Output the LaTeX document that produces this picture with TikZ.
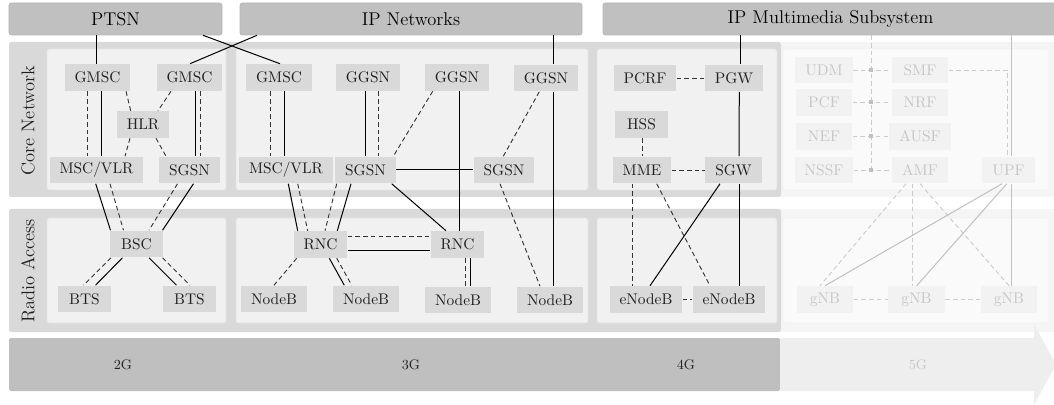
\documentclass[tikz,border=0pt]{standalone}
\usetikzlibrary{calc}
\definecolor{topc}{HTML}{C0C0C0}
\definecolor{topd}{HTML}{B6B6B6}
\definecolor{band}{HTML}{D9D9D9}
\definecolor{innerc}{HTML}{F1F1F1}
\definecolor{innerd}{HTML}{E3E3E3}
\definecolor{nodec}{HTML}{D9D9D9}
\definecolor{arr}{HTML}{BFBFBF}
\definecolor{fband}{HTML}{F5F5F5}
\definecolor{finner}{HTML}{FAFAFA}
\definecolor{finnerd}{HTML}{F2F2F2}
\definecolor{fnode}{HTML}{F2F2F2}
\definecolor{ftext}{HTML}{C6C6C6}
\definecolor{fline}{HTML}{C0C0C0}
\definecolor{fdash}{HTML}{CBCBCB}
\definecolor{farr}{HTML}{EEEEEE}
\begin{document}
\begin{tikzpicture}[x=0.65pt,y=-0.65pt,
  box/.style={fill=nodec, text=black!88, minimum width=34pt, minimum height=17.5pt, inner xsep=6.5pt, inner ysep=0pt, font=\normalsize},
  fbox/.style={box, fill=fnode, text=ftext, minimum width=37pt},
  topbox/.style={fill=topc, draw=topd, line width=0.4pt, rounded corners=1.5pt, minimum height=20.8pt, inner sep=0pt, font=\large},
  sol/.style={line width=0.65pt, black},
  dsh/.style={line width=0.6pt, black!80, dash pattern=on 3pt off 2pt},
  fsol/.style={line width=0.65pt, fline},
  fdsh/.style={line width=0.6pt, fdash, dash pattern=on 3pt off 2pt},
  bandst/.style={fill=band, rounded corners=1.5pt},
  innerst/.style={fill=innerc, draw=innerd, line width=0.5pt, rounded corners=1.5pt},
  finnerst/.style={fill=finner, draw=finnerd, line width=0.5pt, rounded corners=1.5pt},
  sidelbl/.style={rotate=90, font=\large, text=black!88},
  genlbl/.style={font=\small, text=black!88},
  jct/.style={fill=fline, minimum width=2.2pt, minimum height=2.6pt, inner sep=0pt},
]
\useasboundingbox (0,0) rectangle (1054,405);

% ---------- bands ----------
\fill[fband] (781,42) rectangle (1060,197);
\fill[fband] (781,209) rectangle (1060,332);
\fill[bandst] (9,42) rectangle (781,197);
\fill[bandst] (9,209) rectangle (781,332);
\filldraw[innerst] (47,49) rectangle (226,190);
\filldraw[innerst] (236,49) rectangle (588,190);
\filldraw[innerst] (597,49) rectangle (777,190);
\filldraw[finnerst] (783,49) rectangle (1049,190);
\filldraw[innerst] (47,218) rectangle (226,323);
\filldraw[innerst] (236,218) rectangle (588,323);
\filldraw[innerst] (597,218) rectangle (777,323);
\filldraw[finnerst] (783,218) rectangle (1049,323);

\node[sidelbl] (corelbl) at (28,121) {Core Network};
\node[sidelbl] (radiolbl) at (28,271) {Radio Access};

% ---------- generation arrow ----------
\fill[arr, rounded corners=1pt] (9,338) rectangle (780,391);
\fill[farr] (780,338) -- (1034,338) -- (1034,324) -- (1056,364.5) -- (1034,405) -- (1034,391) -- (780,391) -- cycle;
\node[genlbl] (g2) at (123,364.5) {2G};
\node[genlbl] (g3) at (411,364.5) {3G};
\node[genlbl] (g4) at (686,364.5) {4G};
\node[genlbl, text=ftext] (g5) at (918,364.5) {5G};

% ---------- top networks ----------
\node[topbox, minimum width=138.45pt] (ptsn) at (115.5,19) {PTSN};
\node[topbox, minimum width=222.3pt] (ipn) at (411,19) {IP Networks};
\node[topbox, minimum width=295.75pt] (ims) at (830.5,19) {IP Multimedia Subsystem};

% ---------- 2G ----------
\node[box] (gmscA) at (97.5,77.5) {GMSC};
\node[box] (gmscB) at (189.5,77.5) {GMSC};
\node[box] (hlr) at (143,124.5) {HLR};
\node[box] (mscA) at (96.5,170) {MSC/VLR};
\node[box] (sgsnA) at (189.5,170) {SGSN};
\node[box] (bsc) at (136.5,244) {BSC};
\node[box] (btsA) at (84.5,299) {BTS};
\node[box] (btsB) at (189.5,299) {BTS};

% ---------- 3G ----------
\node[box] (gmscC) at (279,77.5) {GMSC};
\node[box] (ggsnA) at (368,77.5) {GGSN};
\node[box] (ggsnB) at (457,77.5) {GGSN};
\node[box] (ggsnC) at (546,78) {GGSN};
\node[box] (mscB) at (286,170) {MSC/VLR};
\node[box] (sgsnB) at (365.5,170) {SGSN};
\node[box] (sgsnC) at (504,170) {SGSN};
\node[box] (rncA) at (320.5,244.5) {RNC};
\node[box] (rncB) at (457.5,244.5) {RNC};
\node[box] (nbA) at (274,299) {NodeB};
\node[box] (nbB) at (366,299) {NodeB};
\node[box] (nbC) at (458,300) {NodeB};
\node[box] (nbD) at (550,300) {NodeB};

% ---------- 4G ----------
\node[box] (pcrf) at (645,78) {PCRF};
\node[box] (pgw) at (734,78) {PGW};
\node[box] (hss) at (641.5,124.5) {HSS};
\node[box] (mme) at (642,170) {MME};
\node[box] (sgw) at (733.5,170) {SGW};
\node[box] (enbA) at (646,299.5) {eNodeB};
\node[box] (enbB) at (729,299.5) {eNodeB};

% ---------- 5G ----------
\node[fbox] (udm) at (824,70) {UDM};
\node[fbox] (smf) at (920,70) {SMF};
\node[fbox] (pcf) at (824,102.5) {PCF};
\node[fbox] (nrf) at (920,102.5) {NRF};
\node[fbox] (nef) at (824,136.5) {NEF};
\node[fbox] (ausf) at (920,136.5) {AUSF};
\node[fbox] (nssf) at (824,170) {NSSF};
\node[fbox] (amf) at (920,170) {AMF};
\node[fbox, minimum width=34pt] (upf) at (1008.5,170) {UPF};
\node[fbox] (gnbA) at (825,299.5) {gNB};
\node[fbox] (gnbB) at (916.5,299.5) {gNB};
\node[fbox] (gnbC) at (1009,299.5) {gNB};
\coordinate (busend) at (871,170);

% ---------- 2G links ----------
\draw[sol] ($(ptsn.south)+(-19.5,0)$) -- ($(gmscA.north)+(-1.5,0)$);
\draw[sol] ($(ptsn.south)+(87.5,0)$) -- ($(gmscC.north)+(1,0)$);
\draw[sol] ($(ipn.south)+(-154,0)$) -- ($(gmscB.north)+(0.5,0)$);
\draw[dsh] ($(gmscA.south)+(-10.5,0)$) -- ($(mscA.north)+(-9.5,0)$);
\draw[sol] ($(gmscA.south)+(4,0)$) -- ($(mscA.north)+(5,0)$);
\draw[dsh] ($(gmscA.south)+(28.5,0)$) -- ($(hlr.north)+(-12.3,0)$);
\draw[dsh] ($(gmscB.south)+(-18.5,0)$) -- ($(hlr.north)+(15,0)$);
\draw[dsh] ($(hlr.south)+(-13,0)$) -- ($(mscA.north)+(28.5,0)$);
\draw[dsh] ($(hlr.south)+(13,0)$) -- ($(sgsnA.north)+(-23.5,0)$);
\draw[sol] ($(gmscB.south)+(5.5,0)$) -- ($(sgsnA.north)+(5.5,0)$);
\draw[dsh] ($(gmscB.south)+(11,0)$) -- ($(sgsnA.north)+(11,0)$);
\draw[sol] ($(mscA.south)+(-0.8,0)$) -- ($(bsc.north)+(-26,0)$);
\draw[dsh] ($(mscA.south)+(13.5,0)$) -- ($(bsc.north)+(-13,0)$);
\draw[dsh] ($(sgsnA.south)+(-12,0)$) -- ($(bsc.north)+(12.5,0)$);
\draw[sol] ($(sgsnA.south)+(4,0)$) -- ($(bsc.north)+(26,0)$);
\draw[dsh] ($(bsc.south)+(-25.5,0)$) -- ($(btsA.north)+(-1,0)$);
\draw[sol] ($(bsc.south)+(-14,0)$) -- ($(btsA.north)+(11,0)$);
\draw[sol] ($(bsc.south)+(12.5,0)$) -- ($(btsB.north)+(-13,0)$);
\draw[dsh] ($(bsc.south)+(26,0)$) -- ($(btsB.north)+(0.5,0)$);

% ---------- 3G links ----------
\draw[dsh] ($(gmscC.south)+(-8.3,0)$) -- ($(mscB.north)+(-15.3,0)$);
\draw[sol] ($(gmscC.south)+(5,0)$) -- ($(mscB.north)+(-2,0)$);
\draw[sol] ($(ggsnA.south)+(-3,0)$) -- ($(sgsnB.north)+(-0.5,0)$);
\draw[dsh] ($(ggsnA.south)+(10.3,0)$) -- ($(sgsnB.north)+(12.8,0)$);
\draw[dsh] ($(ggsnB.south)+(-24.3,0)$) -- ($(sgsnB.north)+(27.8,0)$);
\draw[sol] ($(ggsnB.south)+(2,0)$) -- ($(rncB.north)+(1.5,0)$);
\draw[sol] ($(ipn.south)+(142,0)$) -- ($(ggsnC.north)+(7,0)$);
\draw[sol] ($(ggsnC.south)+(7,0)$) -- ($(nbD.north)+(3,0)$);
\draw[dsh] ($(ggsnC.south)+(-6.7,0)$) -- ($(sgsnC.north)+(-0.7,0)$);
\draw[sol] (sgsnB.east) -- (sgsnC.west);
\draw[sol] ($(sgsnB.south)+(26.2,0)$) -- ($(rncB.north)+(-11.5,0)$);
\draw[dsh] ($(sgsnC.south)+(-4,0)$) -- ($(nbD.north)+(-10,0)$);
\draw[sol] ($(mscB.south)+(2.3,0)$) -- ($(rncA.north)+(-22.8,0)$);
\draw[dsh] ($(mscB.south)+(11.7,0)$) -- ($(rncA.north)+(-12.8,0)$);
\draw[dsh] ($(sgsnB.south)+(-28.8,0)$) -- ($(rncA.north)+(4.5,0)$);
\draw[sol] ($(sgsnB.south)+(-14.5,0)$) -- ($(rncA.north)+(16.8,0)$);
\draw[dsh] ($(rncA.east)+(0,-7.8)$) -- ($(rncB.west)+(0,-7.8)$);
\draw[sol] ($(rncA.east)+(0,6.2)$) -- ($(rncB.west)+(0,6.2)$);
\draw[dsh] ($(rncA.south)+(-23.8,0)$) -- (nbA.north);
\draw[sol] ($(rncA.south)+(8.8,0)$) -- ($(nbB.north)+(-21.7,0)$);
\draw[dsh] ($(rncA.south)+(16.2,0)$) -- ($(nbB.north)+(-14.3,0)$);
\draw[dsh] ($(rncB.south)+(7.5,0)$) -- ($(nbC.north)+(7,0)$);
\draw[sol] ($(rncB.south)+(13.2,0)$) -- ($(nbC.north)+(12.7,0)$);

% ---------- 4G links ----------
\draw[sol] ($(ims.south)+(-90.5,0)$) -- ($(pgw.north)+(6,0)$);
\draw[dsh] (pcrf.east) -- (pgw.west);
\draw[sol] ($(pgw.south)+(5.3,0)$) -- ($(sgw.north)+(5.5,0)$);
\draw[dsh] ($(hss.south)+(0.8,0)$) -- ($(mme.north)+(0.3,0)$);
\draw[dsh] (mme.east) -- (sgw.west);
\draw[dsh] ($(mme.south)+(-10,0)$) -- ($(enbA.north)+(-14,0)$);
\draw[dsh] ($(mme.south)+(14.7,0)$) -- ($(enbB.north)+(-19,0)$);
\draw[sol] ($(sgw.south)+(-13.5,0)$) -- ($(enbA.north)+(4,0)$);
\draw[sol] ($(sgw.south)+(5.5,0)$) -- ($(enbB.north)+(10,0)$);
\draw[dsh] (enbA.east) -- (enbB.west);

% ---------- 5G links ----------
\draw[fdsh] ($(ims.south)+(40.5,0)$) -- (busend);
\draw[fdsh] (udm.east) -- (smf.west);
\draw[fdsh] (pcf.east) -- (nrf.west);
\draw[fdsh] (nef.east) -- (ausf.west);
\draw[fdsh] (nssf.east) -- (amf.west);
\draw[fdsh] (smf.east) -| ($(upf.north)+(-1.5,0)$);
\draw[fsol] ($(ims.south)+(180.5,0)$) -- ($(upf.north)+(2.5,0)$);
\draw[fsol] ($(upf.south)+(2.5,0)$) -- ($(gnbC.north)+(2,0)$);
\draw[fsol] ($(upf.south)+(-6.5,0)$) -- (gnbA.north);
\draw[fsol] ($(upf.south)+(-1.8,0)$) -- ($(gnbB.north)+(0.2,0)$);
\draw[fdsh] ($(amf.south)+(-14,0)$) -- ($(gnbA.north)+(-5,0)$);
\draw[fdsh] ($(amf.south)+(-8,0)$) -- ($(gnbB.north)+(-4.5,0)$);
\draw[fdsh] (amf.south) -- (gnbC.north);
\draw[fdsh] (gnbA.east) -- (gnbB.west);
\draw[fdsh] (gnbB.east) -- (gnbC.west);
\node[jct] (jA) at (udm.east -| busend) {};
\node[jct] (jB) at (pcf.east -| busend) {};
\node[jct] (jC) at (nef.east -| busend) {};
\node[jct] (jD) at (busend) {};
\end{tikzpicture}
\end{document}
